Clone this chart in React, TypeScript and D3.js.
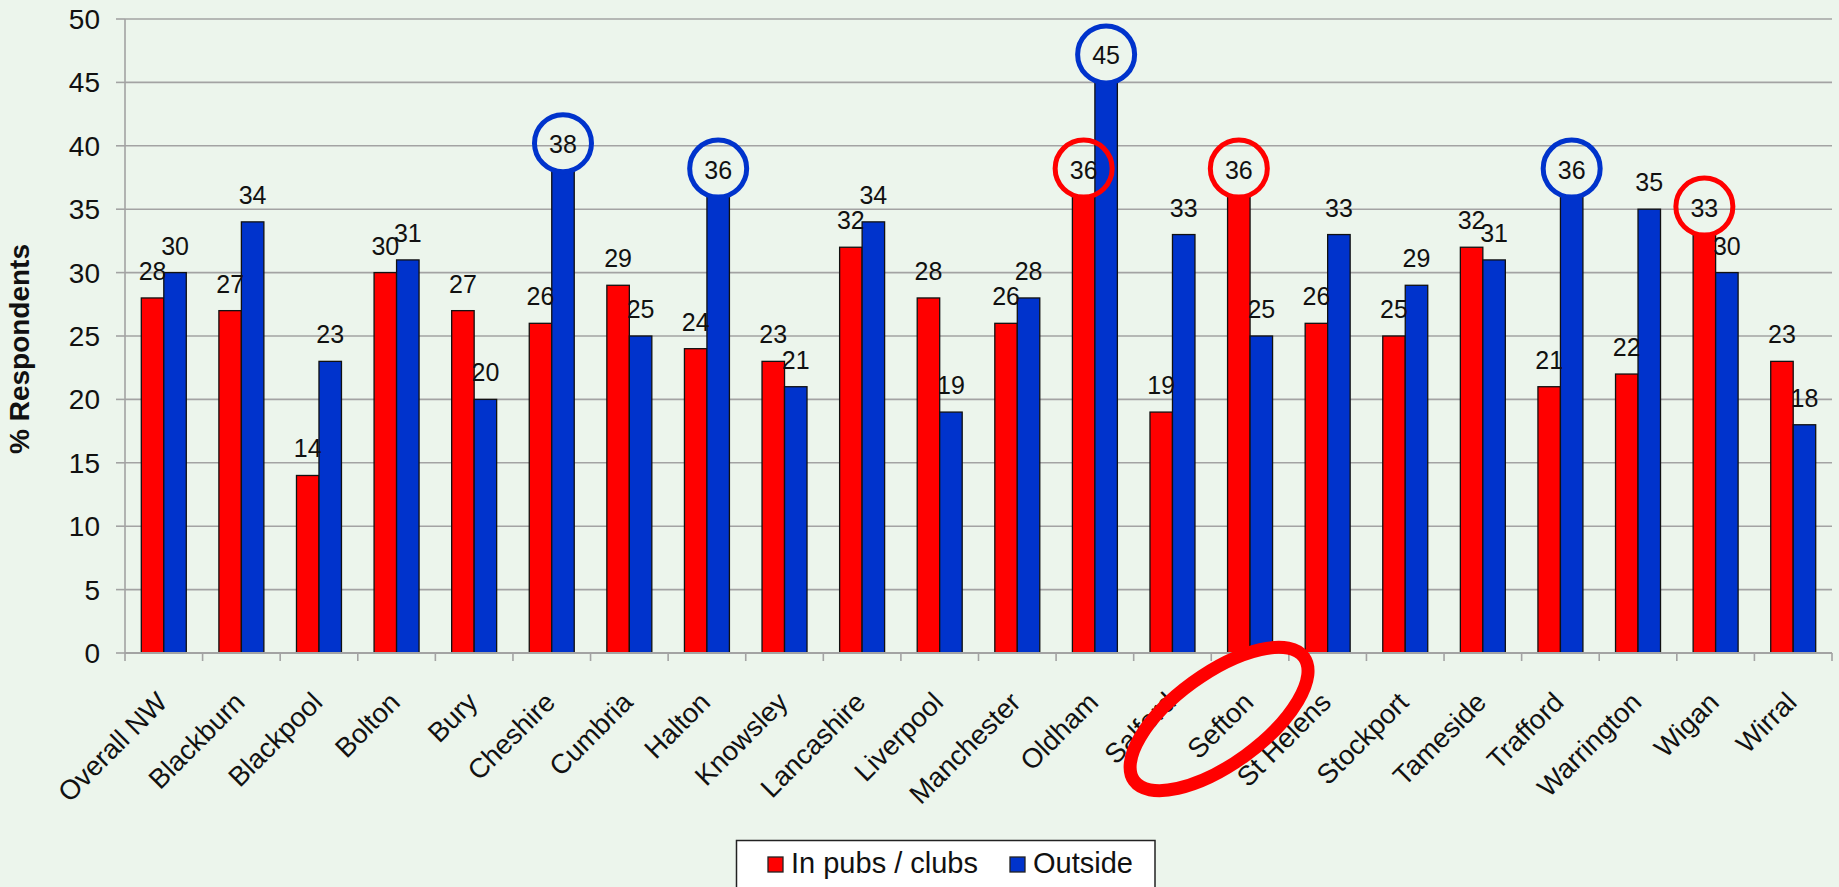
import React from "react";
import * as d3 from "d3";

const categories = [
  "Overall NW", "Blackburn", "Blackpool", "Bolton", "Bury", "Cheshire", "Cumbria",
  "Halton", "Knowsley", "Lancashire", "Liverpool", "Manchester", "Oldham", "Salford",
  "Sefton", "St Helens", "Stockport", "Tameside", "Trafford", "Warrington", "Wigan", "Wirral",
];
const pubsValues = [28, 27, 14, 30, 27, 26, 29, 24, 23, 32, 28, 26, 36, 19, 36, 26, 25, 32, 21, 22, 33, 23];
const outsideValues = [30, 34, 23, 31, 20, 38, 25, 36, 21, 34, 19, 28, 45, 33, 25, 33, 29, 31, 36, 35, 30, 18];
const seriesNames = ["In pubs / clubs", "Outside"];
const yTicks = [0, 5, 10, 15, 20, 25, 30, 35, 40, 45, 50];
const highlightedPubs = ["Oldham", "Sefton", "Wigan"];
const highlightedOutside = ["Cheshire", "Halton", "Oldham", "Trafford"];
const ringedCategory = "Sefton";

const W = 1839;
const H = 887;
const FONT = "'Liberation Sans', Arial, sans-serif";
const RED = "#FF0000";
const BLUE = "#0033CC";
const BG = "#ECF5EC";
const GRID = "#A3A3A3";

export default function App() {
  const x = d3.scaleBand<string>().domain(categories).range([125, 1832]).padding(0);
  const xs = d3.scaleBand<string>().domain(["pubs", "outside"]).range([0, x.step()]).paddingInner(0).paddingOuter(0.725);
  const y = d3.scaleLinear().domain([0, 50]).range([653, 19]);
  const step = x.step();

  const bars: { key: string; cat: string; v: number; s: string; color: string; hl: boolean }[] = [];
  categories.forEach((c, i) => {
    bars.push({ key: c + "p", cat: c, v: pubsValues[i], s: "pubs", color: RED, hl: highlightedPubs.includes(c) });
    bars.push({ key: c + "o", cat: c, v: outsideValues[i], s: "outside", color: BLUE, hl: highlightedOutside.includes(c) });
  });

  const ringX = (x(ringedCategory) ?? 0) + step / 2 - 31;
  const ringY = 719;

  return (
    <svg width={W} height={H} style={{ position: "absolute", left: 0, top: 0, display: "block" }} fontFamily={FONT}>
      <rect x={0} y={0} width={W} height={H} fill={BG} />
      {yTicks.map((t) => (
        <g key={"g" + t}>
          {t > 0 && <line x1={125} x2={1832} y1={y(t)} y2={y(t)} stroke={GRID} strokeWidth={1.6} />}
          <line x1={116} x2={125} y1={y(t)} y2={y(t)} stroke={GRID} strokeWidth={1.6} />
          <text x={100} y={y(t)} dy="0.36em" textAnchor="end" fontSize={28} fill="#111">{t}</text>
        </g>
      ))}
      <line x1={125} x2={125} y1={y(50)} y2={y(0)} stroke={GRID} strokeWidth={1.6} />
      {bars.map((b) => (
        <rect key={b.key} x={(x(b.cat) ?? 0) + (xs(b.s) ?? 0)} y={y(b.v)} width={xs.bandwidth()} height={y(0) - y(b.v)}
          fill={b.color} stroke="#111" strokeWidth={1.3} />
      ))}
      <line x1={125} x2={1832} y1={y(0)} y2={y(0)} stroke={GRID} strokeWidth={1.8} />
      {d3.range(categories.length + 1).map((i) => (
        <line key={"t" + i} x1={125 + i * step} x2={125 + i * step} y1={y(0)} y2={y(0) + 8} stroke={GRID} strokeWidth={1.6} />
      ))}
      {bars.map((b) => {
        const cx = (x(b.cat) ?? 0) + (xs(b.s) ?? 0) + xs.bandwidth() / 2;
        return (
          <g key={"l" + b.key}>
            <text x={cx} y={y(b.v) - 18} textAnchor="middle" fontSize={25} fill="#111">{b.v}</text>
            {b.hl && <circle cx={cx} cy={y(b.v) - 28} r={28.5} fill="none" stroke={b.color} strokeWidth={5} />}
          </g>
        );
      })}
      {categories.map((c) => {
        const cx = (x(c) ?? 0) + step / 2 + 5;
        return (
          <text key={"c" + c} transform={`translate(${cx},704) rotate(-45)`} textAnchor="end" fontSize={27.5} fill="#111">{c}</text>
        );
      })}
      <ellipse cx={ringX} cy={ringY} rx={105} ry={45} transform={`rotate(-36 ${ringX} ${ringY})`} fill="none" stroke={RED} strokeWidth={13} />
      <text transform="translate(29,349) rotate(-90)" textAnchor="middle" fontSize={28} fontWeight="bold" fill="#111">% Respondents</text>
      <rect x={736.5} y={840.5} width={418.5} height={70} fill="#FFFFFF" stroke="#222" strokeWidth={1.5} />
      <rect x={768} y={857} width={15} height={15} fill={RED} stroke="#222" strokeWidth={1.3} />
      <text x={791} y={873} fontSize={29} fill="#111">{seriesNames[0]}</text>
      <rect x={1010} y={857} width={15} height={15} fill={BLUE} stroke="#222" strokeWidth={1.3} />
      <text x={1033} y={873} fontSize={29} fill="#111">{seriesNames[1]}</text>
    </svg>
  );
}
